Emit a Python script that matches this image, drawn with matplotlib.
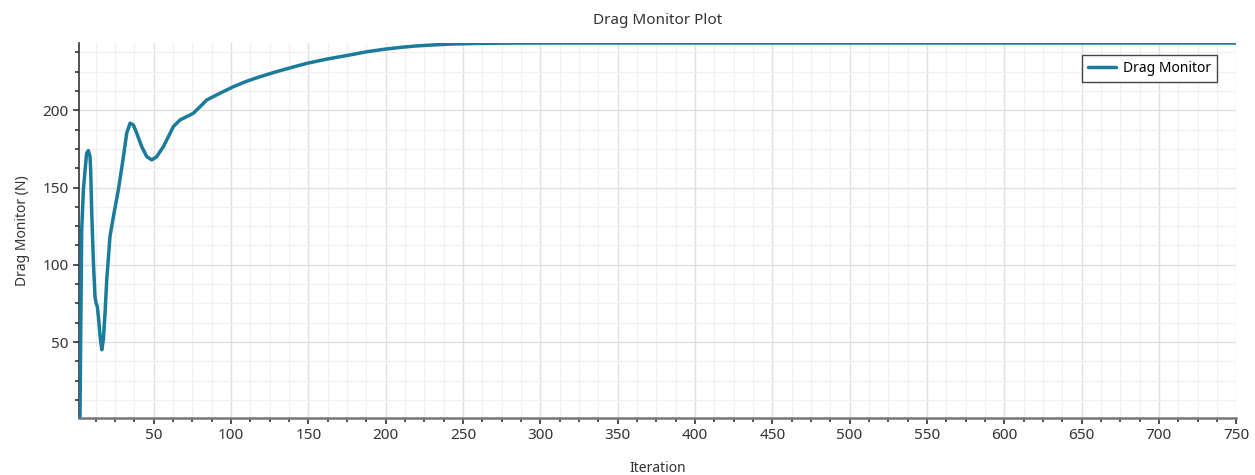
import matplotlib
matplotlib.use("Agg")
import matplotlib.pyplot as plt
from matplotlib.ticker import MultipleLocator

# Drag monitor history (iteration, drag in N)
iteration = [2.3, 2.8, 3.4, 4.5, 5.6, 6.6, 7.7, 8.8, 9.2, 9.9, 11.0, 12.0, 12.7,
             13.5, 14.4, 15.3, 16.4, 17.4, 18.5, 19.6, 21.7, 23.9, 27.1, 30.4,
             32.5, 34.7, 36.8, 39.0, 42.2, 45.5, 48.7, 51.9, 56.2, 59.5, 62.7,
             67.0, 73.5, 75.6, 80.0, 84.3, 90.7, 101.5, 110.0, 118.8, 130.0,
             140.0, 149.4, 162.0, 175.0, 187.0, 198.7, 210.0, 220.0, 232.0,
             242.0, 258.0, 275.0, 306.0, 400.0, 500.0, 600.0, 750.0]
drag = [1.9, 58.0, 122.6, 148.5, 161.4, 172.2, 173.9, 170.0, 161.4, 133.4, 101.1,
        79.5, 75.2, 73.0, 64.4, 53.6, 45.0, 51.5, 68.8, 90.3, 118.3, 131.2,
        148.5, 170.0, 185.2, 191.7, 190.6, 185.2, 176.5, 170.0, 167.9, 170.0,
        176.5, 183.0, 189.5, 193.8, 197.0, 198.1, 202.4, 206.7, 210.0, 215.3,
        218.8, 221.8, 225.2, 228.0, 230.5, 233.2, 235.5, 237.8, 239.5, 240.8,
        241.7, 242.4, 242.9, 243.3, 243.5, 243.6, 243.6, 243.6, 243.6, 243.6]

x_ticks = [50, 100, 150, 200, 250, 300, 350, 400, 450, 500, 550, 600, 650, 700, 750]
y_ticks = [50, 100, 150, 200]

plt.rcParams["font.family"] = ["Noto Sans", "DejaVu Sans"]

fig = plt.figure(figsize=(12.55, 4.75), dpi=100)
ax = fig.add_axes([0.063, 0.12, 0.922, 0.7895])

ax.plot(iteration, drag, color="#1b7b9b", lw=2.5, label="Drag Monitor",
        solid_capstyle="round", solid_joinstyle="round", zorder=3)

ax.set_xlim(1.7, 750)
ax.set_ylim(0.8, 243.6)
ax.set_xticks(x_ticks)
ax.set_yticks(y_ticks)
ax.xaxis.set_minor_locator(MultipleLocator(12.5))
ax.yaxis.set_minor_locator(MultipleLocator(12.5))

ax.grid(which="major", color="#e0e0e0", lw=1.0)
ax.grid(which="minor", color="#f0f0f0", lw=0.9)
ax.set_axisbelow(True)

for side in ("top", "right"):
    ax.spines[side].set_visible(False)
ax.spines["left"].set_color("#333333")
ax.spines["bottom"].set_color("#777777")
ax.spines["left"].set_linewidth(1.2)
ax.spines["bottom"].set_linewidth(1.8)

ax.tick_params(which="both", direction="out", colors="#222222",
               labelcolor="#333333", labelsize=11, width=1.1)
ax.tick_params(which="major", length=4)
ax.tick_params(which="minor", length=3)

ax.set_title("Drag Monitor Plot", fontsize=11, color="#333333", pad=14)
ax.set_xlabel("Iteration", fontsize=10, color="#333333", labelpad=13)
ax.set_ylabel("Drag Monitor (N)", fontsize=10, color="#333333", labelpad=9)

leg = ax.legend(loc="upper right", bbox_to_anchor=(0.9836, 0.968),
                borderaxespad=0, fontsize=10, fancybox=False, framealpha=1,
                edgecolor="#444444", handlelength=2.0, borderpad=0.45,
                handletextpad=0.5)
leg.get_frame().set_linewidth(1.0)

fig.savefig("out.png", dpi=100)
